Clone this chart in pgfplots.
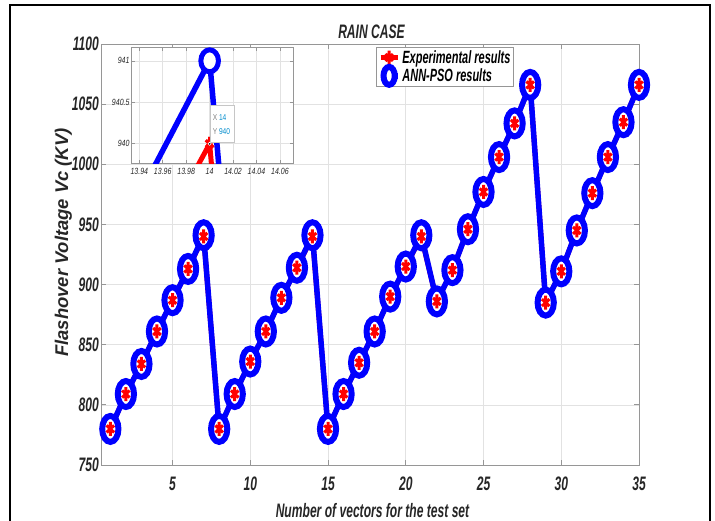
\documentclass[border=0pt]{standalone}
\usepackage{fontspec}
\setmainfont{Liberation Sans}
\newfontfamily\nfont{Liberation Sans}[FakeStretch=0.62]
\newfontfamily\mfont{Liberation Sans}[FakeStretch=0.78]
\usepackage{pgfplots}
\usepackage{pgfplotstable}
\pgfplotsset{compat=1.18}
\definecolor{axgray}{RGB}{150,150,150}
\definecolor{gridgray}{RGB}{226,226,226}
\definecolor{txt}{RGB}{38,38,38}
\definecolor{tipblue}{RGB}{0,140,205}

% vector, experimental, ANN-PSO
\pgfplotstableread{
x exp ann
1 780 780
2 809 809
3 834 834
4 861 861
5 887 887
6 913 913
7 940 941
8 780 780
9 809 809
10 836 836
11 861 861
12 889 889
13 914 914
14 940 941
15 780 780
16 809 809
17 835 835
18 861 861
19 890 890
20 915 915
21 940 941
22 886 886
23 912 912
24 946 946
25 977 977
26 1006 1006
27 1034 1034
28 1066 1066
29 885 885
30 911 911
31 945 945
32 976 976
33 1006 1006
34 1035 1035
35 1066 1066
}\data

\pgfplotstableread{
x exp ann
13 914 914
14 940 941
15 780 780
}\zoomdata

\begin{document}
\begin{tikzpicture}
\path[use as bounding box] (0pt,0pt) rectangle (715pt,-521pt);
\draw[line width=1.4pt] (10pt,-521pt) -- (10pt,-5pt) -- (710pt,-5pt) -- (710pt,-521pt);

\begin{axis}[
    at={(101pt,-465pt)}, anchor=south west,
    width=538pt, height=421pt, scale only axis,
    xmin=0.4, xmax=35, ymin=750, ymax=1100,
    xtick={5,10,...,35}, ytick={750,800,...,1100},
    grid=major, grid style={gridgray, line width=0.7pt},
    axis line style={axgray, line width=0.9pt},
    tick style={axgray, line width=0.8pt}, tick align=inside,
    major tick length=5pt,
    tick label style={font=\nfont\bfseries\itshape\fontsize{19.5}{20}\selectfont,
        text=txt, inner sep=2pt, /pgf/number format/assume math mode=true},
    yticklabel style={/pgf/number format/1000 sep={}},
    xticklabel style={yshift=-10pt},
    legend style={at={(0.512,0.993)}, anchor=north west, draw=axgray, fill=white,
        line width=0.8pt, inner sep=1pt, row sep=0pt,
        font=\nfont\bfseries\itshape\fontsize{17.7}{18}\selectfont, text=black},
    legend cell align=left,
]
\addplot[red, line width=5pt, mark=asterisk, mark size=7pt,
    mark options={solid, xscale=0.625, line width=3pt},
    legend image post style={mark size=7pt}] table[x=x, y=exp] {\data};
\addplot[blue, line width=5.5pt, mark=*, mark size=13pt,
    mark options={solid, xscale=0.625, line width=6pt, draw=blue, fill=white},
    legend image post style={mark size=9pt}] table[x=x, y=ann] {\data};
\addplot[red, draw=none, mark=asterisk, mark size=7pt, forget plot,
    mark options={solid, xscale=0.625, line width=3pt}] table[x=x, y=exp] {\data};
\legend{Experimental results, ANN-PSO results}
\end{axis}

\node[font=\nfont\bfseries\itshape\fontsize{19.5}{20}\selectfont, text=txt] at (371.5pt,-32pt) {RAIN CASE};
\node[font=\nfont\bfseries\itshape\fontsize{19.5}{20}\selectfont, text=txt] at (372.5pt,-511pt) {Number of vectors for the test set};
\node[rotate=90, anchor=base, font=\bfseries\itshape\fontsize{18.4}{19}\selectfont, text=txt] at (68pt,-242.5pt) {Flashover Voltage Vc (KV)};

\begin{axis}[
    at={(131.7pt,-163.3pt)}, anchor=south west,
    width=161.6pt, height=115.6pt, scale only axis,
    xmin=13.9335, xmax=14.0714, ymin=939.767, ymax=941.16,
    axis background/.style={fill=white},
    clip marker paths=true,
    xtick={13.94,13.96,13.98,14,14.02,14.04,14.06},
    xticklabels={13.94,13.96,13.98,14,14.02,14.04,14.06},
    ytick={940,940.5,941}, yticklabels={940,940.5,941},
    grid=major, grid style={gridgray, line width=0.6pt},
    axis line style={axgray, line width=0.8pt},
    tick style={axgray, line width=0.6pt}, tick align=inside,
    major tick length=3pt,
    tick label style={font=\mfont\itshape\fontsize{9}{10}\selectfont, text=txt, inner sep=2pt},
    xticklabel style={yshift=-3pt},
]
\addplot[red, line width=5pt, mark=asterisk, mark size=7pt,
    mark options={solid, xscale=0.625, line width=3pt}] table[x=x, y=exp] {\zoomdata};
\addplot[blue, line width=5.5pt, mark=*, mark size=11pt,
    mark options={solid, xscale=0.8, line width=5pt, draw=blue, fill=white}] table[x=x, y=ann] {\zoomdata};
\addplot[red, draw=none, mark=asterisk, mark size=7pt,
    mark options={solid, xscale=0.625, line width=3pt}] table[x=x, y=exp] {\zoomdata};
\draw[gray!45, fill=white, line width=0.6pt] (axis cs:14.0006,940.012) rectangle (axis cs:14.0212,940.458);
\node[anchor=west, inner sep=0pt, font=\mfont\fontsize{8.5}{9}\selectfont] at (axis cs:14.0025,940.313)
    {\textcolor{gray}{X} \textcolor{tipblue}{14}};
\node[anchor=west, inner sep=0pt, font=\mfont\fontsize{8.5}{9}\selectfont] at (axis cs:14.0025,940.144)
    {\textcolor{gray}{Y} \textcolor{tipblue}{940}};
\draw[white, fill=black, line width=0.6pt] (axis cs:14,940) circle (1.6pt);
\end{axis}
\end{tikzpicture}
\end{document}
